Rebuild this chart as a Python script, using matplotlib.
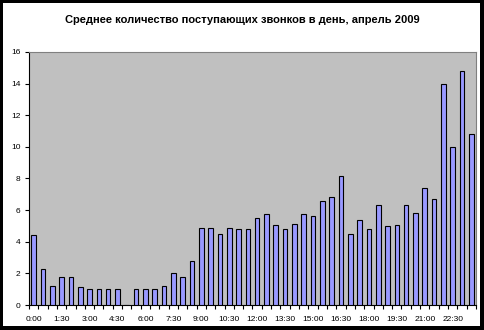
import matplotlib.pyplot as plt
from matplotlib.patches import Rectangle
from matplotlib.ticker import FixedLocator

plt.rcParams['font.family'] = ['Liberation Sans', 'DejaVu Sans']

# Средние значения по получасовым интервалам (0:00 ... 23:30)
slots = [f"{h}:{m:02d}" for h in range(24) for m in (0, 30)]
calls = [4.4, 2.3, 1.2, 1.8, 1.75, 1.15, 1.0, 1.0, 1.0, 1.0,
         0.0, 1.0, 1.0, 1.0, 1.2, 2.0, 1.75, 2.8, 4.9, 4.9,
         4.5, 4.9, 4.8, 4.8, 5.5, 5.75, 5.05, 4.8, 5.15, 5.75,
         5.6, 6.6, 6.8, 8.15, 4.5, 5.4, 4.8, 6.35, 5.0, 5.05,
         6.3, 5.8, 7.4, 6.7, 14.0, 10.0, 14.8, 10.8]
label_step = 3

W, H = 485, 330
fig = plt.figure(figsize=(W / 100, H / 100), dpi=100, facecolor='black')
# белая подложка внутри чёрной рамки
fig.patches.append(Rectangle((3 / W, 4 / H), 477 / W, 323 / H,
                             transform=fig.transFigure, facecolor='white',
                             edgecolor='none', zorder=-10))

ax = fig.add_axes([29 / W, 25 / H, 447 / W, 253 / H])
ax.set_zorder(5)
ax.set_facecolor('#C0C0C0')

x = list(range(len(calls)))
ax.bar(x, calls, width=0.5, color='#9999FF', edgecolor='black', linewidth=0.8, zorder=3)

ax.set_xlim(-0.5, len(calls) - 0.5)
ax.set_ylim(0, 16)
ax.set_yticks(range(0, 17, 2))

ax.set_xticks(x[::label_step])
ax.set_xticklabels(slots[::label_step])
ax.xaxis.set_minor_locator(FixedLocator([i - 0.5 for i in range(len(calls) + 1)]))
ax.tick_params(axis='x', which='major', length=0, pad=8, labelsize=6)
ax.tick_params(axis='x', which='minor', length=3, width=0.8, direction='out')
ax.tick_params(axis='y', length=3, width=0.8, pad=3, labelsize=6)

for side in ('top', 'right'):
    ax.spines[side].set_color('#808080')
ax.spines['left'].set_color('black')
ax.spines['bottom'].set_color('black')

fig.text(0.5, 1 - 20 / H, 'Среднее количество поступающих звонков в день, апрель 2009',
         ha='center', va='center', fontsize=8, fontweight='bold', zorder=6)

fig.savefig('out.png', dpi=100, facecolor=fig.get_facecolor())
